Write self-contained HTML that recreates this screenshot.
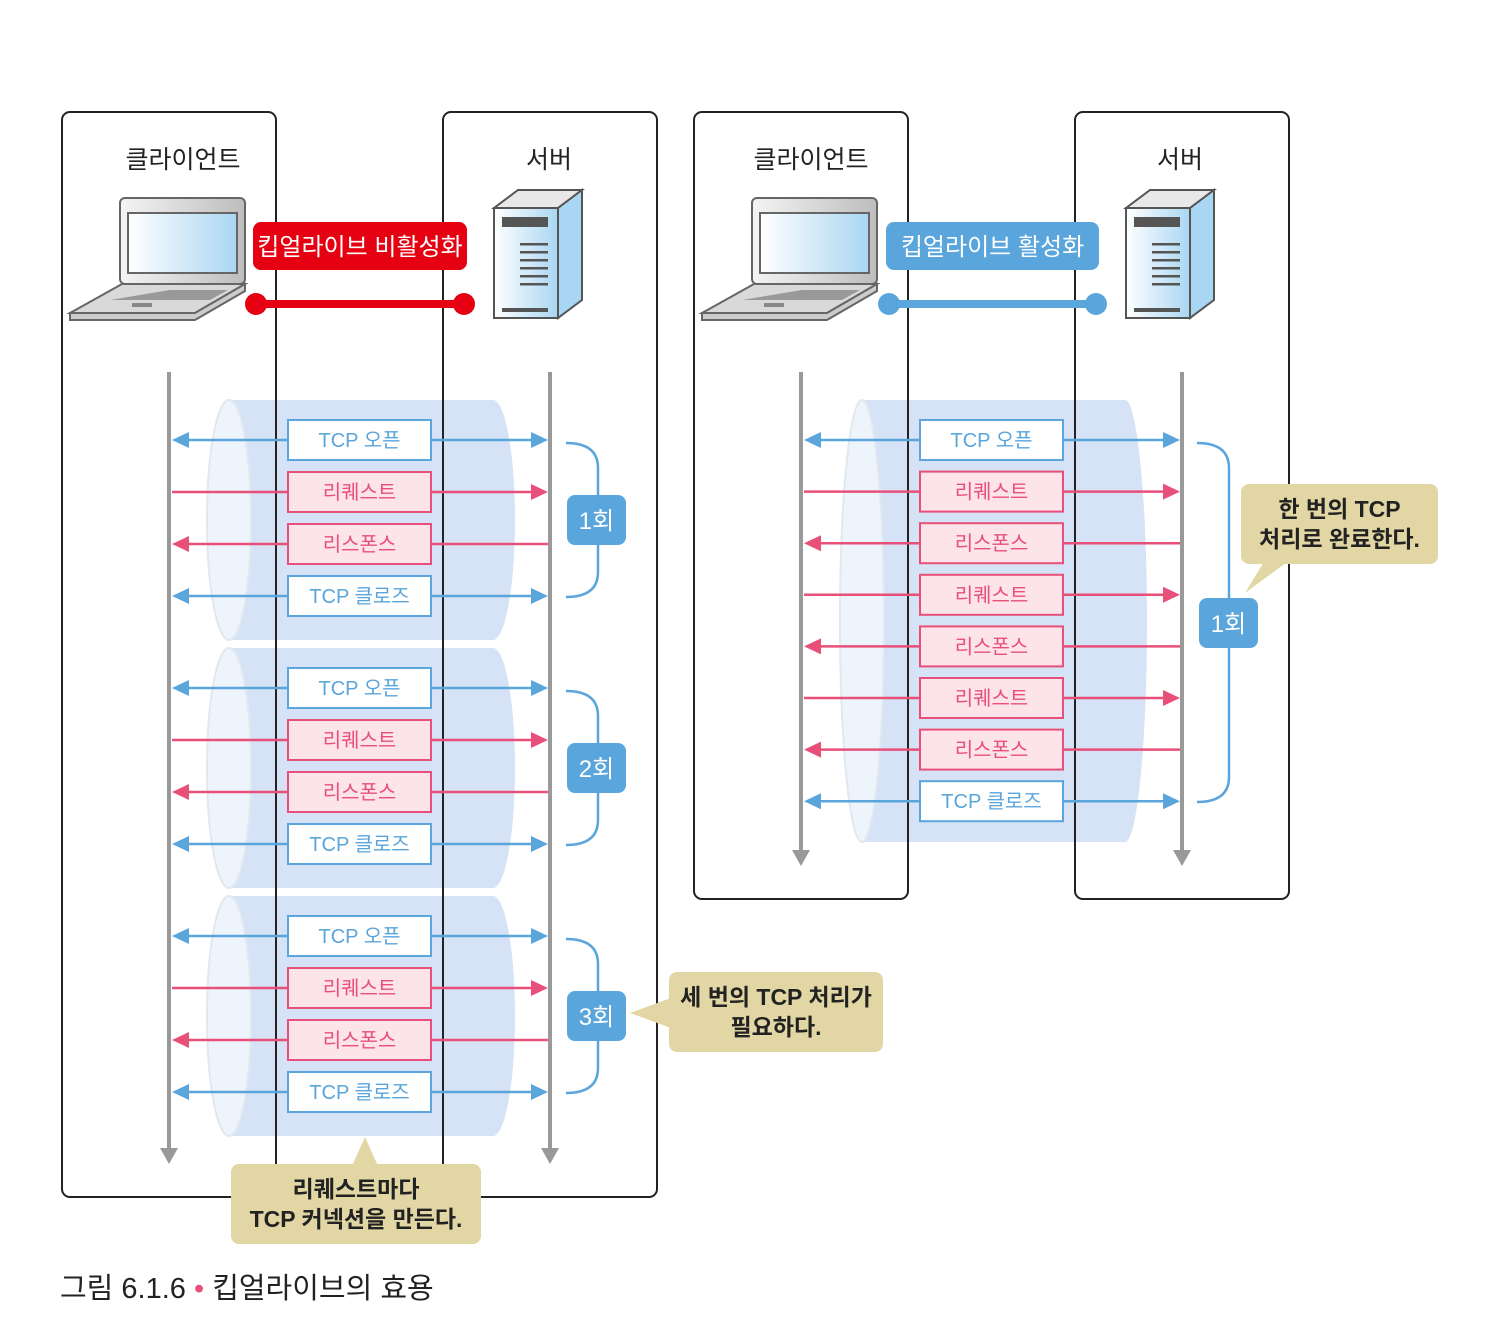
<!DOCTYPE html>
<html><head><meta charset="utf-8"><style>
body{margin:0;background:#fff;}
svg text{font-family:"Liberation Sans","Noto Sans CJK KR",sans-serif;}
</style></head><body>
<svg id="s" width="1492" height="1332" viewBox="0 0 1492 1332" xmlns="http://www.w3.org/2000/svg">
<defs>
<linearGradient id="scr" x1="0" x2="1"><stop offset="0" stop-color="#fff"/><stop offset="1" stop-color="#a9d6f2"/></linearGradient>
<linearGradient id="gry" x1="0" x2="1"><stop offset="0" stop-color="#f4f4f4"/><stop offset="1" stop-color="#bdbdbd"/></linearGradient>
</defs>
<g id="g"></g>
</svg>
<script>
const leftRows=["open","req","res","close"];
const rightRows=["open","req","res","req","res","req","res","close"];
const leftGroups=["1회","2회","3회"];
const labels={open:"TCP 오픈",req:"리퀘스트",res:"리스폰스",close:"TCP 클로즈"};
const G=document.getElementById('g');
const NS="http://www.w3.org/2000/svg";
function el(t,a,txt){const e=document.createElementNS(NS,t);for(const k in a)e.setAttribute(k,a[k]);if(txt!==undefined)e.textContent=txt;G.appendChild(e);return e;}
const BLUE="#5aa5dc",PINK="#e8507a";
function panel(x1,x2,y2,title,tx,nm){
  const r=el('rect',{x:x1,y:112,width:x2-x1,height:y2-112,rx:8,fill:'none',stroke:'#222','stroke-width':2});
  
  const t=el('text',{x:tx,y:168,'text-anchor':'middle','font-size':25,fill:'#222'},title);
  
}
function laptop(x){
  el('rect',{x:x+50,y:198,width:125,height:86,rx:5,fill:'url(#gry)',stroke:'#666','stroke-width':2});
  el('rect',{x:x+58,y:213,width:109,height:60,fill:'url(#scr)',stroke:'#666','stroke-width':2});
  el('path',{d:`M${x+52} 284 L${x+175} 284 L${x+125} 313 L${x} 313 Z`,fill:'#d9d9d9',stroke:'#666','stroke-width':2});
  el('path',{d:`M${x} 313 L${x+125} 313 L${x+175} 284 L${x+175} 291 L${x+125} 320 L${x} 320 Z`,fill:'#ccc',stroke:'#666','stroke-width':2});
  el('path',{d:`M${x+40} 300 L${x+100} 290 L${x+158} 290 L${x+140} 300 Z`,fill:'#999'});
  el('rect',{x:x+62,y:303,width:20,height:4,fill:'#888'});
}
function server(x){
  el('path',{d:`M${x} 208 L${x+64} 208 L${x+88} 190 L${x+24} 190 Z`,fill:'#e8e8e8',stroke:'#555','stroke-width':2});
  el('path',{d:`M${x+64} 208 L${x+88} 190 L${x+88} 300 L${x+64} 318 Z`,fill:'#a9d6f2',stroke:'#555','stroke-width':2});
  el('rect',{x:x,y:208,width:64,height:110,fill:'url(#scr)',stroke:'#555','stroke-width':2});
  el('rect',{x:x+8,y:217,width:46,height:10,fill:'#555'});
  for(let i=0;i<6;i++)el('rect',{x:x+26,y:243+i*8,width:28,height:2.5,fill:'#555'});
  el('rect',{x:x+8,y:308,width:46,height:4,fill:'#555'});
}
function keep(x1,x2,color,text,nm){
  const r=el('rect',{x:x1,y:222,width:x2-x1,height:48,rx:8,fill:color});
  
  el('text',{x:(x1+x2)/2,y:255,'text-anchor':'middle','font-size':24,fill:'#fff'},text);
  el('line',{x1:x1+3,x2:x2-3,y1:304,y2:304,stroke:color,'stroke-width':8});
  el('circle',{cx:x1+3,cy:304,r:11,fill:color});el('circle',{cx:x2-3,cy:304,r:11,fill:color});
}
function cylinder(x1,x2,y1,y2){
  const ry=(y2-y1)/2;
  const c=el('path',{d:`M${x1+24} ${y1} L${x2-22} ${y1} A22 ${ry} 0 0 1 ${x2-22} ${y2} L${x1+24} ${y2} Z`,fill:'#d6e2f5'});
  
  el('ellipse',{cx:x1+24,cy:(y1+y2)/2,rx:22,ry:ry,fill:'#eef4fb',stroke:'#e2e8ef','stroke-width':2});
}
function lifeline(x,y2){
  el('line',{x1:x,x2:x,y1:372,y2:y2-12,stroke:'#999','stroke-width':4});
  el('path',{d:`M${x-9} ${y2-16} L${x+9} ${y2-16} L${x} ${y2} Z`,fill:'#999'});
}
function row(type,y,xl,xr,bx){
  const col=(type==='open'||type==='close')?BLUE:PINK;
  const bg=(type==='open'||type==='close')?'#fff':'#fde3ea';
  el('line',{x1:xl+(type!=='req'?14:0),x2:xr-(type!=='res'?14:0),y1:y,y2:y,stroke:col,'stroke-width':2.5});
  if(type!=='req')el('path',{d:`M${xl} ${y} L${xl+17} ${y-8} L${xl+17} ${y+8} Z`,fill:col});
  if(type!=='res')el('path',{d:`M${xr} ${y} L${xr-17} ${y-8} L${xr-17} ${y+8} Z`,fill:col});
  const b=el('rect',{x:bx,y:y-20,width:143,height:40,fill:bg,stroke:col,'stroke-width':2});
  
  el('text',{x:bx+71.5,y:y+7,'text-anchor':'middle','font-size':20,fill:col},labels[type]);
}
function brace(x,y1,y2,by,bx,text){
  el('path',{d:`M${x} ${y1} Q${x+32} ${y1} ${x+32} ${y1+25} L${x+32} ${y2-25} Q${x+32} ${y2} ${x} ${y2}`,fill:'none',stroke:BLUE,'stroke-width':2.5});
  const b=el('rect',{x:bx,y:by-25,width:59,height:50,rx:8,fill:BLUE});
  
  el('text',{x:bx+29.5,y:by+9,'text-anchor':'middle','font-size':24,fill:'#fff'},text);
}
function callout(x1,y1,x2,y2,ptr,lines,nm){
  el('path',{d:ptr,fill:'#e2d7a4'});
  const r=el('rect',{x:x1,y:y1,width:x2-x1,height:y2-y1,rx:8,fill:'#e2d7a4'});
  
  lines.forEach((l,i)=>el('text',{x:(x1+x2)/2,y:y1+33+i*30,'text-anchor':'middle','font-size':23,'font-weight':'bold',fill:'#222'},l));
}
leftGroups.forEach((g,i)=>cylinder(205,515,400+i*248,640+i*248));
panel(62,276,1197,'클라이언트',183,'left-client');panel(443,657,1197,'서버',549,'left-server');
laptop(70);server(494);keep(253,467,'#e50012','킵얼라이브 비활성화','keepalive-off');
lifeline(169,1164);lifeline(550,1164);
leftGroups.forEach((g,i)=>{
  leftRows.forEach((t,j)=>row(t,440+j*52+i*248,172,548,288));
  brace(566,443+i*248,597+i*248,520+i*248,567,g);
});
cylinder(838,1147,400,842);
panel(694,908,899,'클라이언트',811,'right-client');panel(1075,1289,899,'서버',1180,'right-server');
laptop(702);server(1126);keep(886,1099,BLUE,'킵얼라이브 활성화','keepalive-on');
lifeline(801,866);lifeline(1182,866);
rightRows.forEach((t,j)=>row(t,440+j*51.6,804,1180,920));
brace(1197,443,802,623,1199,'1회');
callout(669,972,883,1052,'M671 998 L630 1013 L671 1028 Z',['세 번의 TCP 처리가','필요하다.'],'three-tcp-callout');
callout(1241,484,1438,564,'M1265 560 L1245 593 L1290 560 Z',['한 번의 TCP','처리로 완료한다.'],'one-tcp-callout');
callout(231,1164,481,1244,'M352 1166 L365 1137 L378 1166 Z',['리퀘스트마다','TCP 커넥션을 만든다.'],'per-request-callout');
const c=el('text',{x:60,y:1298,'font-size':29,fill:'#222'});

c.innerHTML='그림 6.1.6 <tspan fill="#e8507a">•</tspan> 킵얼라이브의 효용';
</script>
</body></html>
